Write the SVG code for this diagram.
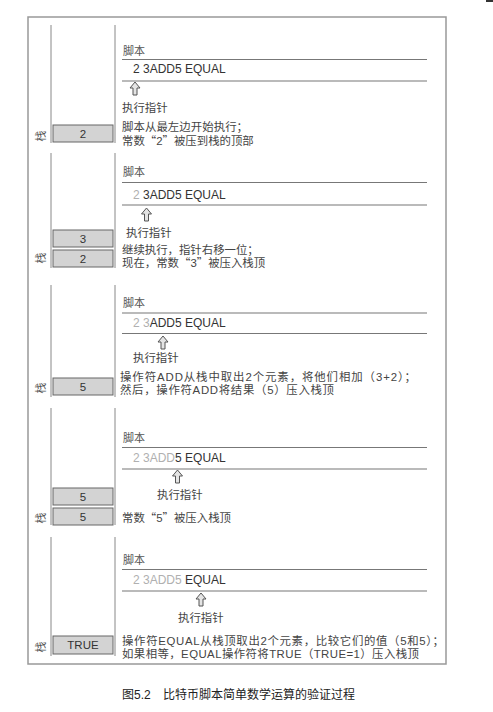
<svg xmlns="http://www.w3.org/2000/svg" width="493" height="712" viewBox="0 0 493 712">
<style>
.frame{fill:none;stroke:#999;stroke-width:1.5}
.vl{stroke:#888;stroke-width:1}
.hl{stroke:#777;stroke-width:1.2}
.t{font-family:"Liberation Sans","Noto Sans CJK SC",sans-serif;font-size:11.4px;fill:#444}
.q{font-family:"Noto Sans CJK SC",sans-serif}
.s{font-family:"Liberation Sans","Noto Sans CJK SC",sans-serif;font-size:11px;fill:#555}
.code{font-family:"Liberation Sans",sans-serif;font-size:12px;fill:#333}
.done{fill:#b0b0b0}
.box{fill:#d3d3d3;stroke:#666;stroke-width:1}
.bt{font-family:"Liberation Sans",sans-serif;font-size:11.5px;fill:#333;text-anchor:middle}
.stk{font-family:"Noto Sans CJK SC",sans-serif;font-size:11px;fill:#555;text-anchor:middle}
.ptr{fill:#e4e4e4;stroke:#555;stroke-width:1}
.cap{font-family:"Liberation Sans","Noto Sans CJK SC",sans-serif;font-size:12px;fill:#222}
</style>
<defs>
<path id="arrow" class="ptr" d="M0,0 L5,6 L2,6 L2,13 L-2,13 L-2,6 L-5,6 Z"/>
</defs>
<rect x="486" y="0" width="7" height="2" fill="#333"/>
<rect class="frame" x="28" y="17" width="418" height="647"/>

<g id="panel1">
<line class="vl" x1="51" y1="25" x2="51" y2="143"/>
<line class="vl" x1="115" y1="25" x2="115" y2="143"/>
<text class="s" x="123" y="55">脚本</text>
<line class="hl" x1="122" y1="59.5" x2="427" y2="59.5"/>
<text class="code" x="133" y="73">2 3ADD5 EQUAL</text>
<line class="hl" x1="122" y1="81" x2="427" y2="81"/>
<use href="#arrow" x="135" y="82"/>
<text class="t" x="122" y="112">执行指针</text>
<text class="t" x="122" y="130.5" textLength="126" lengthAdjust="spacing">脚本从最左边开始执行；</text>
<text class="t" x="122" y="144.5">常数<tspan class="q">“</tspan>2<tspan class="q">”</tspan>被压到栈的顶部</text>
<rect class="box" x="53" y="125" width="60" height="17"/>
<text class="bt" x="83" y="137.5">2</text>
<text class="stk" transform="translate(45,136) rotate(-90)" x="0" y="0">栈</text>
</g>

<g id="panel2">
<line class="vl" x1="51" y1="153" x2="51" y2="268"/>
<line class="vl" x1="115" y1="153" x2="115" y2="268"/>
<text class="s" x="123" y="176">脚本</text>
<line class="hl" x1="122" y1="182.5" x2="427" y2="182.5"/>
<text class="code" x="133" y="199"><tspan class="done">2 </tspan>3ADD5 EQUAL</text>
<line class="hl" x1="122" y1="205" x2="427" y2="205"/>
<use href="#arrow" x="146.5" y="208"/>
<text class="t" x="126" y="237">执行指针</text>
<text class="t" x="122" y="253.5">继续执行，指针右移一位；</text>
<text class="t" x="122" y="267">现在，常数<tspan class="q">“</tspan>3<tspan class="q">”</tspan>被压入栈顶</text>
<rect class="box" x="53" y="230" width="60" height="17"/>
<text class="bt" x="83" y="242.5">3</text>
<rect class="box" x="53" y="250" width="60" height="17"/>
<text class="bt" x="83" y="262.5">2</text>
<text class="stk" transform="translate(45,258) rotate(-90)" x="0" y="0">栈</text>
</g>

<g id="panel3">
<line class="vl" x1="51" y1="285" x2="51" y2="397"/>
<line class="vl" x1="115" y1="285" x2="115" y2="397"/>
<text class="s" x="123" y="307">脚本</text>
<line class="hl" x1="122" y1="313" x2="427" y2="313"/>
<text class="code" x="133" y="327"><tspan class="done">2 3</tspan>ADD5 EQUAL</text>
<line class="hl" x1="122" y1="333.5" x2="427" y2="333.5"/>
<use href="#arrow" x="163" y="336"/>
<text class="t" x="133" y="362">执行指针</text>
<text class="t" x="120" y="381" textLength="296" lengthAdjust="spacing">操作符ADD从栈中取出2个元素，将他们相加（3+2）；</text>
<text class="t" x="120" y="394" textLength="214" lengthAdjust="spacing">然后，操作符ADD将结果（5）压入栈顶</text>
<rect class="box" x="53" y="378" width="60" height="17"/>
<text class="bt" x="83" y="390.5">5</text>
<text class="stk" transform="translate(45,388) rotate(-90)" x="0" y="0">栈</text>
</g>

<g id="panel4">
<line class="vl" x1="51" y1="408" x2="51" y2="525"/>
<line class="vl" x1="115" y1="408" x2="115" y2="525"/>
<text class="s" x="123" y="442">脚本</text>
<line class="hl" x1="122" y1="447.5" x2="427" y2="447.5"/>
<text class="code" x="133" y="462"><tspan class="done">2 3ADD</tspan>5 EQUAL</text>
<line class="hl" x1="122" y1="469" x2="427" y2="469"/>
<use href="#arrow" x="177.5" y="470"/>
<text class="t" x="157" y="499">执行指针</text>
<text class="t" x="122" y="522">常数<tspan class="q">“</tspan>5<tspan class="q">”</tspan>被压入栈顶</text>
<rect class="box" x="53" y="488" width="60" height="17"/>
<text class="bt" x="83" y="500.5">5</text>
<rect class="box" x="53" y="508" width="60" height="17"/>
<text class="bt" x="83" y="520.5">5</text>
<text class="stk" transform="translate(45,518) rotate(-90)" x="0" y="0">栈</text>
</g>

<g id="panel5">
<line class="vl" x1="51" y1="537" x2="51" y2="656"/>
<line class="vl" x1="115" y1="537" x2="115" y2="656"/>
<text class="s" x="123" y="564">脚本</text>
<line class="hl" x1="122" y1="569.5" x2="427" y2="569.5"/>
<text class="code" x="133" y="584"><tspan class="done">2 3ADD5 </tspan>EQUAL</text>
<line class="hl" x1="122" y1="591" x2="427" y2="591"/>
<use href="#arrow" x="201" y="593"/>
<text class="t" x="178" y="622">执行指针</text>
<text class="t" x="122" y="644.5" textLength="322" lengthAdjust="spacing">操作符EQUAL从栈顶取出2个元素，比较它们的值（5和5）；</text>
<text class="t" x="122" y="657.5" textLength="297" lengthAdjust="spacing">如果相等，EQUAL操作符将TRUE（TRUE=1）压入栈顶</text>
<rect class="box" x="53" y="636" width="60" height="18"/>
<text class="bt" x="83" y="649">TRUE</text>
<text class="stk" transform="translate(45,647) rotate(-90)" x="0" y="0">栈</text>
</g>

<g id="caption">
<text class="cap" x="122" y="699">图5.2</text>
<text class="cap" x="163" y="699">比特币脚本简单数学运算的验证过程</text>
</g>
</svg>
